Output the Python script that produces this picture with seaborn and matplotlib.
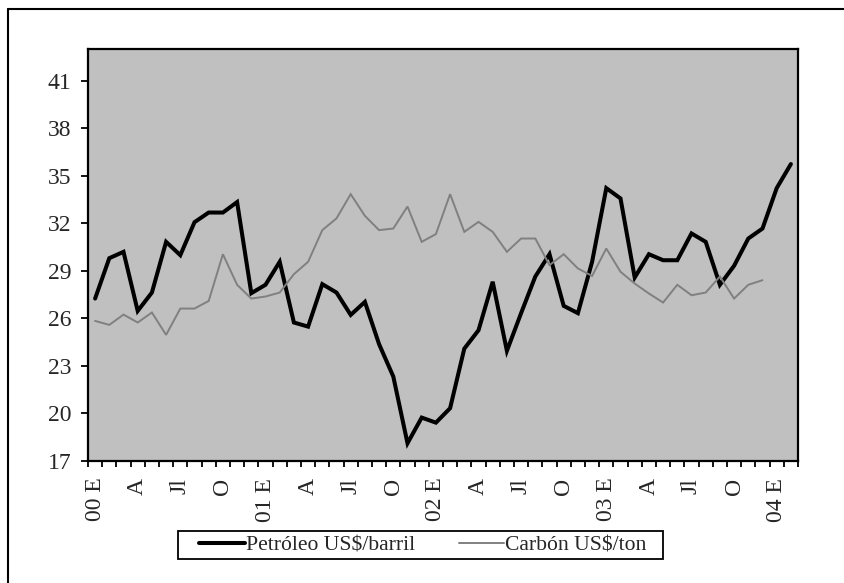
import numpy as np
import pandas as pd
import matplotlib
matplotlib.use("Agg")
import matplotlib.pyplot as plt
from matplotlib.lines import Line2D
from matplotlib.patches import Rectangle
import seaborn as sns

# Monthly prices, January 2000 through February 2004
petroleo = [27.25, 29.8, 30.2, 26.47, 27.63, 30.83, 29.99, 32.07, 32.68, 32.68,
            33.34, 27.59, 28.12, 29.57, 25.74, 25.48, 28.16, 27.63, 26.22, 27.04,
            24.37, 22.33, 18.12, 19.74, 19.42, 20.33, 24.09, 25.25, 28.31, 23.95,
            26.33, 28.64, 30.05, 26.79, 26.33, 29.57, 34.22, 33.57, 28.58, 30.05,
            29.67, 29.67, 31.36, 30.83, 28.12, 29.32, 31.04, 31.67, 34.22, 35.74]
carbon = [25.84, 25.59, 26.24, 25.74, 26.37, 24.96, 26.62, 26.62, 27.10, 30.05,
          28.12, 27.25, 27.38, 27.63, 28.79, 29.57, 31.57, 32.31, 33.84, 32.47,
          31.57, 31.67, 33.06, 30.83, 31.32, 33.84, 31.46, 32.09, 31.46, 30.20,
          31.04, 31.04, 29.36, 30.05, 29.15, 28.68, 30.41, 28.94, 28.20, 27.57,
          27.00, 28.12, 27.46, 27.63, 28.64, 27.25, 28.12, 28.41]

month_labels = ["00 E", "A", "Jl", "O", "01 E", "A", "Jl", "O",
                "02 E", "A", "Jl", "O", "03 E", "A", "Jl", "O", "04 E"]
y_ticks = [17, 20, 23, 26, 29, 32, 35, 38, 41]
series_names = ["Petróleo US$/barril", "Carbón US$/ton"]

df = pd.concat([
    pd.DataFrame({"mes": np.arange(len(petroleo)), "precio": petroleo, "serie": series_names[0]}),
    pd.DataFrame({"mes": np.arange(len(carbon)), "precio": carbon, "serie": series_names[1]}),
])

sns.set_style("white")
plt.rcParams["font.family"] = ["Liberation Serif", "DejaVu Serif"]

W, H = 845, 583
fig = plt.figure(figsize=(W / 100, H / 100), dpi=100)
ax = fig.add_axes([88 / W, 122 / H, 710 / W, 412 / H])
ax.set_facecolor("#c0c0c0")

palette = {series_names[0]: "black", series_names[1]: "#808080"}
sns.lineplot(data=df, x="mes", y="precio", hue="serie", palette=palette,
             ax=ax, legend=False)
lines = ax.get_lines()
lines[0].set_linewidth(2.9)
lines[1].set_linewidth(1.4)
for ln in lines:
    ln.set_solid_joinstyle("miter")

n = len(petroleo)
ax.set_xlim(-0.5, n - 0.5)
ax.set_ylim(17, 43)

# ticks between months, labels every quarter centred on the month
ax.set_xticks(np.arange(-0.5, n, 1))
ax.set_xticklabels([])
ax.set_xticks(np.arange(0, 3 * len(month_labels), 3), minor=True)
ax.set_xticklabels(month_labels, minor=True, rotation=90, fontsize=17)
ax.tick_params(axis="x", which="major", direction="out", length=4.5, width=1.3,
               color="black", bottom=True)
ax.tick_params(axis="x", which="minor", length=0, pad=12)

ax.set_yticks(y_ticks)
ax.set_yticklabels([str(v) for v in y_ticks], fontsize=17)
ax.tick_params(axis="y", direction="out", length=5, width=1.3, color="black",
               left=True, pad=7)

ax.set_xlabel("")
ax.set_ylabel("")
for sp in ax.spines.values():
    sp.set_visible(True)
    sp.set_color("black")
    sp.set_linewidth(1.6)

# legend below the chart, with a plain rectangular frame
handles = [Line2D([0], [0], color="black", lw=2.9),
           Line2D([0], [0], color="#808080", lw=1.4)]
leg = fig.legend(handles, series_names, ncol=2, loc="center",
                 bbox_to_anchor=(423 / W, 38 / H), frameon=False,
                 fontsize=15.6, handlelength=2.1, handletextpad=0.05,
                 columnspacing=2.0, borderpad=0.15, borderaxespad=0)
fig.add_artist(Rectangle((178 / W, (H - 559) / H), (663 - 178) / W, 28 / H,
                         transform=fig.transFigure, facecolor="none",
                         edgecolor="black", lw=1.3))

# outer chart border (top and left edges visible)
fig.add_artist(Line2D([8 / W, 8 / W], [0, 1 - 9 / H], color="black",
                      lw=1.5, transform=fig.transFigure))
fig.add_artist(Line2D([8 / W, 1], [1 - 9 / H, 1 - 9 / H], color="black",
                      lw=1.5, transform=fig.transFigure))

fig.savefig("out.png", dpi=100)
